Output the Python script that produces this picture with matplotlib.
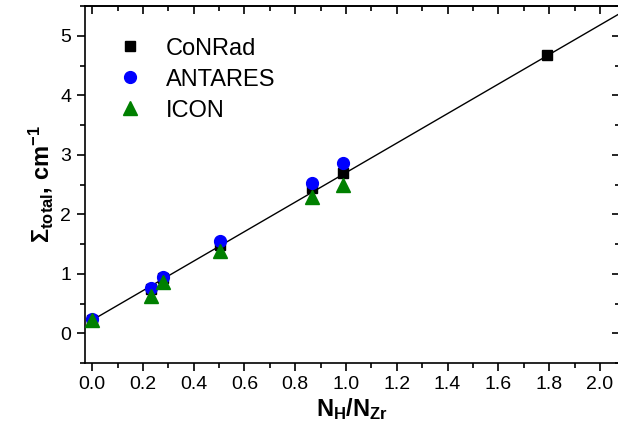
import matplotlib
matplotlib.use("Agg")
import matplotlib.pyplot as plt
from matplotlib.ticker import MultipleLocator

plt.rcParams['font.family'] = ['Liberation Sans', 'DejaVu Sans']
plt.rcParams['mathtext.fontset'] = 'custom'
plt.rcParams['mathtext.rm'] = 'Liberation Sans'
plt.rcParams['mathtext.it'] = 'Liberation Sans:italic'
plt.rcParams['mathtext.bf'] = 'Liberation Sans:bold'

# data
conrad_x = [0.0, 0.232, 0.28, 0.504, 0.866, 0.99, 1.79]
conrad_y = [0.23, 0.75, 0.93, 1.48, 2.44, 2.69, 4.68]

antares_x = [0.0, 0.232, 0.28, 0.504, 0.866, 0.99]
antares_y = [0.24, 0.76, 0.94, 1.55, 2.52, 2.86]

icon_x = [0.0, 0.232, 0.28, 0.504, 0.866, 0.99]
icon_y = [0.23, 0.62, 0.86, 1.38, 2.29, 2.49]

fit_x = [0.0, 2.1]
fit_intercept = 0.22
fit_slope = 2.48

fig = plt.figure(figsize=(6.18, 4.32), dpi=100)
ax = fig.add_axes([84.5 / 618, 69 / 432, 535.5 / 618, 357 / 432])

fit_y = [fit_intercept + fit_slope * x for x in fit_x]
ax.plot(fit_x, fit_y, color='black', lw=1.0, zorder=1)

ax.plot(conrad_x, conrad_y, 's', color='black', ms=7, ls='none', label='CoNRad', zorder=2)
ax.plot(antares_x, antares_y, 'o', color='#0000ff', ms=8.5, ls='none', label='ANTARES', zorder=3)
ax.plot(icon_x, icon_y, '^', color='#008000', ms=9.5, ls='none', label='ICON', zorder=4)

ax.set_xlim(-0.03, 2.079)
ax.set_ylim(-0.5, 5.5)

ax.xaxis.set_major_locator(MultipleLocator(0.2))
ax.xaxis.set_minor_locator(MultipleLocator(0.1))
ax.yaxis.set_major_locator(MultipleLocator(1))
ax.yaxis.set_minor_locator(MultipleLocator(0.5))
ax.xaxis.set_major_formatter(plt.FuncFormatter(lambda v, p: f"{v:.1f}"))

ax.tick_params(which='both', direction='out', top=False, right=False, labelsize=14, width=1.2)
ax.tick_params(which='major', length=6)
ax.tick_params(which='minor', length=3.5)
for s in ax.spines.values():
    s.set_linewidth(1.2)

# inward ticks on top and right
for side in ['top', 'right']:
    sec = ax.secondary_xaxis('top') if side == 'top' else ax.secondary_yaxis('right')
    if side == 'top':
        sec.xaxis.set_major_locator(MultipleLocator(0.2))
        sec.xaxis.set_minor_locator(MultipleLocator(0.1))
    else:
        sec.yaxis.set_major_locator(MultipleLocator(1))
        sec.yaxis.set_minor_locator(MultipleLocator(0.5))
    sec.tick_params(which='both', direction='in', labelleft=False, labelright=False,
                    labeltop=False, labelbottom=False, width=1.2)
    sec.tick_params(which='major', length=6)
    sec.tick_params(which='minor', length=3.5)
    sec.spines[side].set_linewidth(1.2)

ax.set_xlabel(r'$\mathbf{N_H/N_{Zr}}$', fontsize=17, labelpad=2)
ax.set_ylabel(r'$\mathbf{\Sigma_{total}}$, cm$\mathbf{^{-1}}$', fontsize=17, fontweight='bold', labelpad=4)

ax.legend(loc='upper left', bbox_to_anchor=(0.046, 0.938), frameon=False, fontsize=17,
          handlelength=1.0, handletextpad=1.0, labelspacing=0.38, borderaxespad=0)

fig.savefig('out.png', dpi=100)
